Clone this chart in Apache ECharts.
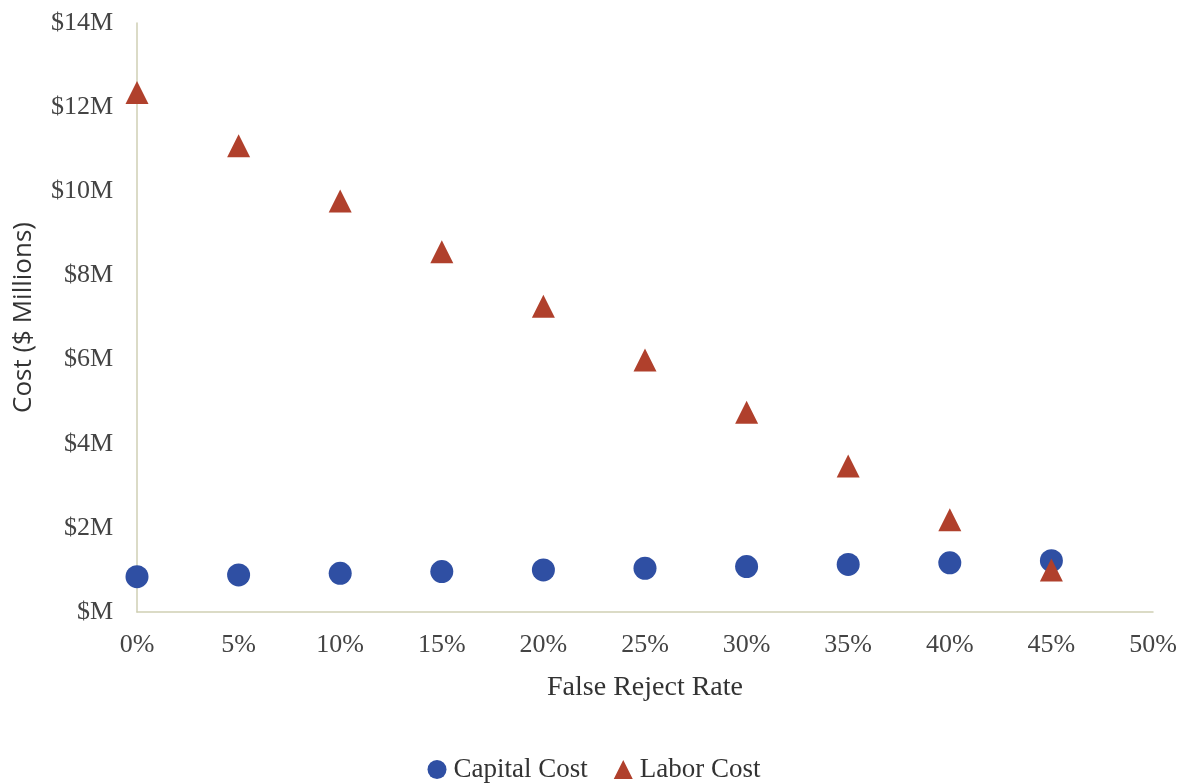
<!DOCTYPE html>
<html>
<head>
<meta charset="utf-8">
<script src="https://cdn.jsdelivr.net/npm/echarts@6/dist/echarts.min.js"></script>
<style>
  html, body { margin: 0; padding: 0; background: #ffffff; }
  #chart { width: 1188px; height: 783px; }
</style>
</head>
<body>
<div id="chart"></div>
<script>
// False reject rate (%) and the two cost components ($ millions)
const rejectRates = [0, 5, 10, 15, 20, 25, 30, 35, 40, 45];
const capitalCost = [0.84, 0.88, 0.92, 0.96, 1.00, 1.04, 1.08, 1.13, 1.17, 1.22];
const laborCost = [12.35, 11.08, 9.77, 8.56, 7.27, 5.99, 4.75, 3.47, 2.19, 1.00];
const seriesNames = ['Capital Cost', 'Labor Cost'];

const serif = '"Liberation Serif", "Times New Roman", serif';
const axisColor = '#cfcfb4';

const chart = echarts.init(document.getElementById('chart'), null, { renderer: 'canvas' });

chart.setOption({
  backgroundColor: '#ffffff',
  animation: false,
  grid: { left: 137, right: 35, top: 23, bottom: 171, containLabel: false },
  legend: {
    data: seriesNames,
    top: 751,
    left: 'center',
    itemWidth: 19,
    itemHeight: 19,
    itemGap: 26,
    textStyle: { fontFamily: serif, fontSize: 27, color: '#333333', padding: [0, 0, 0, 2] }
  },
  xAxis: {
    type: 'value',
    min: 0,
    max: 50,
    interval: 5,
    name: 'False Reject Rate',
    nameLocation: 'middle',
    nameGap: 62,
    nameTextStyle: { fontFamily: serif, fontSize: 28, color: '#333333' },
    axisLine: { show: true, lineStyle: { color: axisColor, width: 1.5 } },
    axisTick: { show: false },
    splitLine: { show: false },
    axisLabel: {
      margin: 20,
      fontFamily: serif,
      fontSize: 26,
      color: '#444444',
      formatter: v => v + '%'
    }
  },
  yAxis: {
    type: 'value',
    min: 0,
    max: 14,
    interval: 2,
    name: 'Cost ($ Millions)',
    nameLocation: 'middle',
    nameGap: 100,
    nameTextStyle: { fontFamily: '"Open Sans", "Noto Sans", sans-serif', fontSize: 26, color: '#333333' },
    axisLine: { show: true, lineStyle: { color: axisColor, width: 1.5 } },
    axisTick: { show: false },
    splitLine: { show: false },
    axisLabel: {
      margin: 24,
      fontFamily: serif,
      fontSize: 26,
      color: '#444444',
      formatter: v => (v === 0 ? '$M' : '$' + v + 'M')
    }
  },
  series: [
    {
      name: seriesNames[0],
      type: 'scatter',
      symbol: 'circle',
      symbolSize: 23,
      itemStyle: { color: '#2f4fa3', opacity: 1 },
      data: rejectRates.map((r, i) => [r, capitalCost[i]]),
      z: 2
    },
    {
      name: seriesNames[1],
      type: 'scatter',
      symbol: 'triangle',
      symbolSize: [23, 23],
      itemStyle: { color: '#b0402c', opacity: 1 },
      data: rejectRates.map((r, i) => [r, laborCost[i]]),
      z: 3
    }
  ]
});
</script>
</body>
</html>
